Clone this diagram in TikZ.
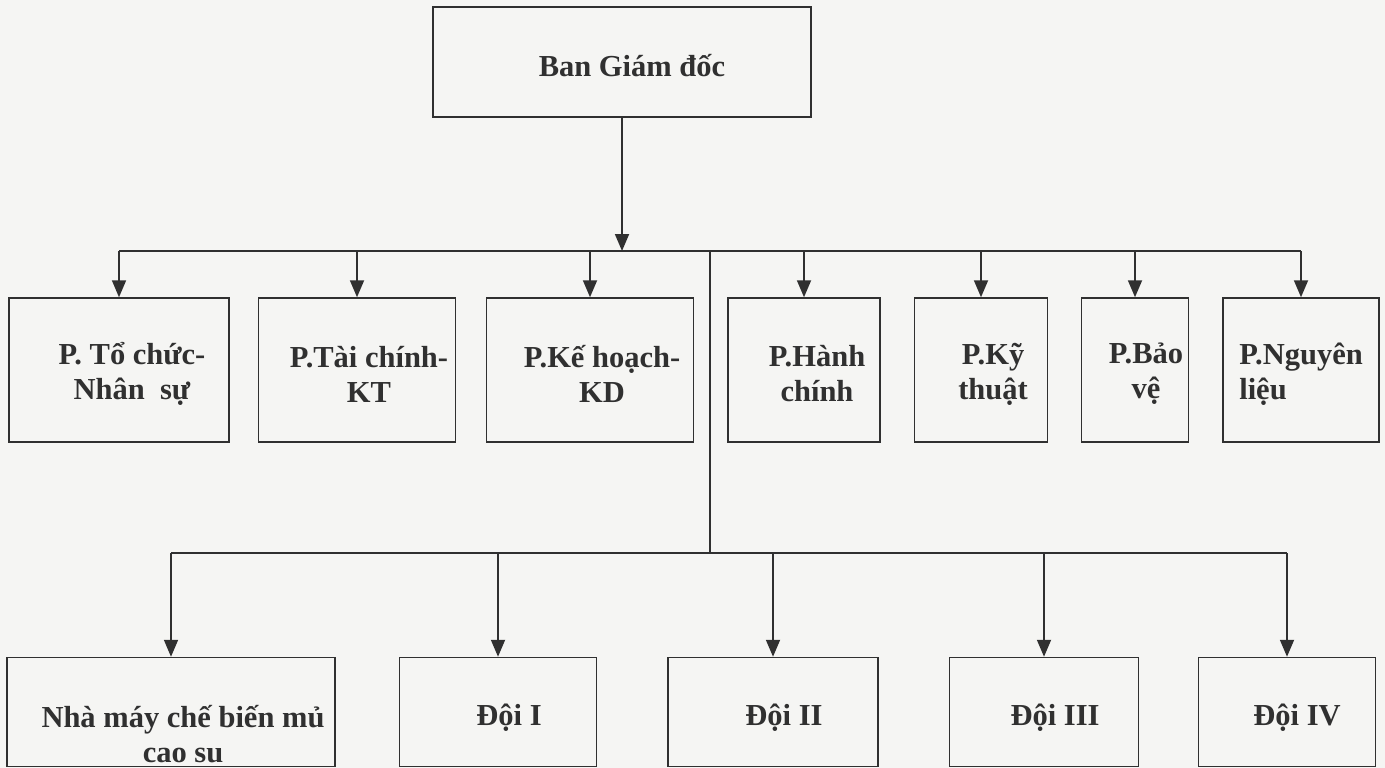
\documentclass[tikz,border=0pt]{standalone}
\usepackage{fontspec}
\setmainfont{Liberation Serif}
\usetikzlibrary{arrows.meta}

\definecolor{paper}{RGB}{245,245,243}
\definecolor{ink}{RGB}{48,48,48}

\begin{document}
\begin{tikzpicture}[x=1pt, y=-1pt,
    box/.style={draw=ink, line width=1.5pt, inner sep=0pt},
    toprow/.style={box, minimum height=144},
    botrow/.style={box, minimum height=109},
    lbl/.style={font=\bfseries\fontsize{30.5}{35}\selectfont, text=ink, align=center, inner sep=0pt},
    link/.style={draw=ink, line width=1.8pt},
    arr/.style={link, -{Triangle[length=17pt, width=14pt]}}]
    \useasboundingbox (0,0) rectangle (1385,768);
    \fill[paper] (0,0) rectangle (1385,768);

    % Director board
    \node[box, minimum width=378, minimum height=110] (bgd) at (622,62) {};
    \node[lbl] (bgd-t) at ([xshift=10, yshift=-4]bgd.center) {Ban Giám đốc};

    % Departments
    \node[toprow, minimum width=220] (tcns) at (119,370) {};
    \node[toprow, minimum width=197] (tckt) at (357,370) {};
    \node[toprow, minimum width=207] (khkd) at (590,370) {};
    \node[toprow, minimum width=152] (hc) at (804,370) {};
    \node[toprow, minimum width=133] (kt) at (981,370) {};
    \node[toprow, minimum width=107] (bv) at (1135,370) {};
    \node[toprow, minimum width=156] (nl) at (1301,370) {};

    \node[lbl] (tcns-t) at ([xshift=13, yshift=-4]tcns.center) {P. Tổ chức-\\Nhân~ sự};
    \node[lbl] (tckt-t) at ([xshift=12, yshift=-4]tckt.center) {P.Tài chính-\\KT};
    \node[lbl] (khkd-t) at ([xshift=12, yshift=-4]khkd.center) {P.Kế hoạch-\\KD};
    \node[lbl] (hc-t) at ([xshift=13, yshift=-4]hc.center) {P.Hành\\chính};
    \node[lbl] (kt-t) at ([xshift=12, yshift=-4]kt.center) {P.Kỹ\\thuật};
    \node[lbl] (bv-t) at ([xshift=11, yshift=-4]bv.center) {P.Bảo\\vệ};
    \node[lbl, align=left] (nl-t) at ([yshift=-4]nl.center) {P.Nguyên\\liệu};

    % Production units
    \node[botrow, minimum width=328] (nm) at (171,712) {};
    \node[botrow, minimum width=197] (d1) at (498,712) {};
    \node[botrow, minimum width=210] (d2) at (773,712) {};
    \node[botrow, minimum width=189] (d3) at (1044,712) {};
    \node[botrow, minimum width=177] (d4) at (1287,712) {};

    \node[lbl] (nm-t) at ([xshift=12, yshift=-22]nm.center) {Nhà máy chế biến mủ\\cao su};
    \node[lbl] (d1-t) at ([xshift=11, yshift=-6]d1.center) {Đội I};
    \node[lbl] (d2-t) at ([xshift=11, yshift=-6]d2.center) {Đội II};
    \node[lbl] (d3-t) at ([xshift=11, yshift=-6]d3.center) {Đội III};
    \node[lbl] (d4-t) at ([xshift=10, yshift=-6]d4.center) {Đội IV};

    % Upper bus
    \coordinate (split) at (710,251);
    \draw[arr] (bgd.south) -- (bgd.south |- split);
    \draw[link] (tcns.north |- split) -- (nl.north |- split);
    \draw[arr] (tcns.north |- split) -- (tcns.north);
    \draw[arr] (tckt.north |- split) -- (tckt.north);
    \draw[arr] (khkd.north |- split) -- (khkd.north);
    \draw[arr] (hc.north |- split) -- (hc.north);
    \draw[arr] (kt.north |- split) -- (kt.north);
    \draw[arr] (bv.north |- split) -- (bv.north);
    \draw[arr] (nl.north |- split) -- (nl.north);

    % Lower bus
    \coordinate (join) at (710,553);
    \draw[link] (split) -- (join);
    \draw[link] (nm.north |- join) -- (d4.north |- join);
    \draw[arr] (nm.north |- join) -- (nm.north);
    \draw[arr] (d1.north |- join) -- (d1.north);
    \draw[arr] (d2.north |- join) -- (d2.north);
    \draw[arr] (d3.north |- join) -- (d3.north);
    \draw[arr] (d4.north |- join) -- (d4.north);
\end{tikzpicture}
\end{document}
